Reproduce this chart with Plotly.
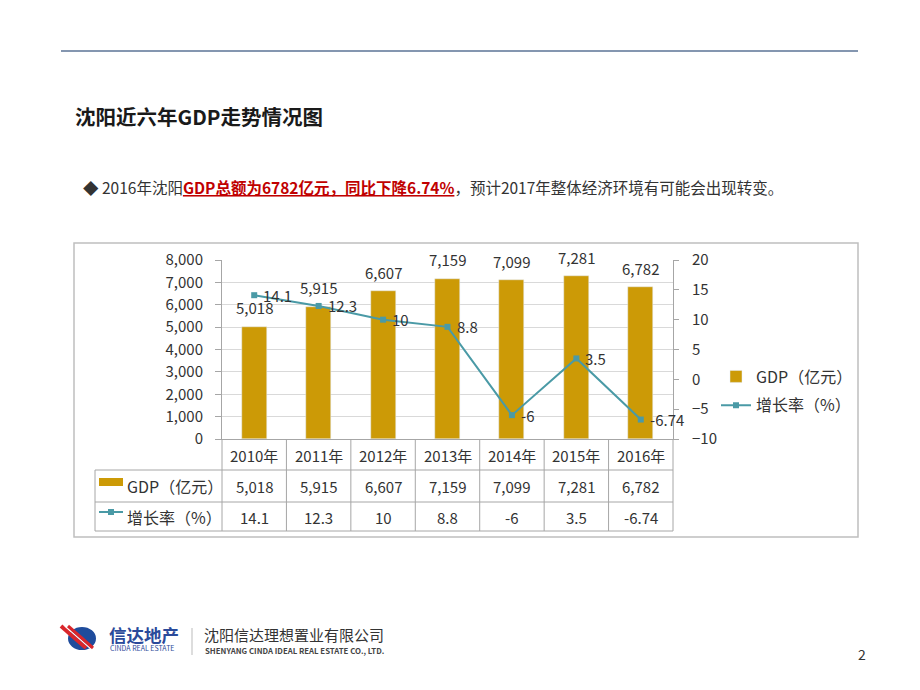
import plotly.graph_objects as go

# ---------------- data ----------------
years = ["2010年", "2011年", "2012年", "2013年", "2014年", "2015年", "2016年"]
gdp = [5018, 5915, 6607, 7159, 7099, 7281, 6782]
growth = [14.1, 12.3, 10, 8.8, -6, 3.5, -6.74]
gdp_name = "GDP（亿元）"
growth_name = "增长率（%）"
left_ticks = [0, 1000, 2000, 3000, 4000, 5000, 6000, 7000, 8000]
right_ticks = [-10, -5, 0, 5, 10, 15, 20]

title_text = "沈阳近六年GDP走势情况图"
bullet_pre = "◆ 2016年沈阳"
bullet_red = "GDP总额为6782亿元，同比下降6.74%"
bullet_post = "，预计2017年整体经济环境有可能会出现转变。"

# ---------------- style ----------------
W, H = 920, 690
OFF = 8  # page body margin offset
FONT = "Noto Sans CJK SC"
GOLD = "#CC9A06"
TEAL = "#4A9AA6"
GRID = "#D9D9D9"
AXIS = "#A6A6A6"
TXT = "#333333"


def px(x):
    return (x - OFF) / W


def py(y):
    return 1 - (y - OFF) / H


def label(x, y, text, size=15, color=TXT, xanchor="center", xref="paper", yref="paper", **kw):
    d = dict(x=x, y=y, xref=xref, yref=yref, text=text, showarrow=False,
             xanchor=xanchor, yanchor="middle",
             font=dict(size=size, color=color, family=FONT))
    d.update(kw)
    return d


x_dom = [px(222), px(673)]
y_dom = [py(439), py(260)]

fig = go.Figure()
fig.add_trace(go.Bar(
    x=years, y=gdp, name=gdp_name, marker_color=GOLD, width=0.39,
    yaxis="y", legendgroup="a", hoverinfo="skip"))
fig.add_trace(go.Scatter(
    x=years, y=growth, name=growth_name, mode="lines+markers",
    line=dict(color=TEAL, width=2),
    marker=dict(symbol="square", size=6, color=TEAL),
    yaxis="y2", legendgroup="b", hoverinfo="skip"))

annotations = []
shapes = []

# data labels
for yr, v in zip(years, gdp):
    annotations.append(label(yr, v, f"{v:,}", xref="x", yref="y", yshift=19))
for yr, g in zip(years, growth):
    annotations.append(label(yr, g, f"{g:g}", xref="x", yref="y2",
                             xanchor="left", xshift=7))

# ---------------- data table below the plot ----------------
row_lines = [470, 502, 531]
for yl in row_lines:
    shapes.append(dict(type="line", xref="paper", yref="paper",
                       x0=px(95), x1=px(673), y0=py(yl), y1=py(yl),
                       line=dict(color=AXIS, width=1)))
n = len(years)
for k in range(n + 1):
    shapes.append(dict(type="line", xref="x domain", yref="paper",
                       x0=k / n, x1=k / n, y0=py(439), y1=py(531),
                       line=dict(color=AXIS, width=1)))
shapes.append(dict(type="line", xref="paper", yref="paper",
                   x0=px(95), x1=px(95), y0=py(470), y1=py(531),
                   line=dict(color=AXIS, width=1)))

for yr, v, g in zip(years, gdp, growth):
    annotations.append(label(yr, py(455), yr, xref="x"))
    annotations.append(label(yr, py(486), f"{v:,}", xref="x"))
    annotations.append(label(yr, py(517), f"{g:g}", xref="x"))

# row headers
shapes.append(dict(type="rect", xref="paper", yref="paper",
                   x0=px(99), x1=px(123), y0=py(486), y1=py(478),
                   fillcolor=GOLD, line=dict(width=0)))
shapes.append(dict(type="line", xref="paper", yref="paper",
                   x0=px(99), x1=px(123), y0=py(512), y1=py(512),
                   line=dict(color=TEAL, width=2)))
shapes.append(dict(type="rect", xref="paper", yref="paper",
                   x0=px(108), x1=px(114), y0=py(515), y1=py(509),
                   fillcolor=TEAL, line=dict(width=0)))
annotations.append(label(px(125), py(486), gdp_name, size=16, xanchor="left"))
annotations.append(label(px(125), py(517), growth_name, size=16, xanchor="left"))

# chart frame
shapes.append(dict(type="rect", xref="paper", yref="paper",
                   x0=px(74), x1=px(858), y0=py(537), y1=py(243),
                   line=dict(color="#BFBFBF", width=1.5), layer="below"))

# ---------------- slide decorations ----------------
shapes.append(dict(type="line", xref="paper", yref="paper",
                   x0=px(61), x1=px(858), y0=py(51), y1=py(51),
                   line=dict(color="#8496B0", width=2)))
annotations.append(label(px(73), py(116), f"<b>{title_text}</b>", size=20.5,
                         color="#1A1A1A", xanchor="left"))
annotations.append(label(px(81), py(187),
                         bullet_pre + "<span style='color:#C00000'><b><u>" + bullet_red
                         + "</u></b></span>" + bullet_post, size=15.5, xanchor="left"))

# footer logo (approximation)
shapes.append(dict(type="circle", xref="paper", yref="paper",
                   x0=px(68), x1=px(96), y0=py(650), y1=py(627),
                   fillcolor="#1F4C9C", line=dict(width=0)))
for off, col, wd in [(0, "#D9262B", 4), (4, "#FFFFFF", 1.5), (7, "#D9262B", 3)]:
    shapes.append(dict(type="line", xref="paper", yref="paper",
                       x0=px(61 + off), x1=px(86 + off), y0=py(626), y1=py(648),
                       line=dict(color=col, width=wd)))
annotations.append(label(px(107), py(634), "<b>信达地产</b>", size=17.5,
                         color="#2A4A9A", xanchor="left"))
annotations.append(label(px(108), py(648), "CINDA REAL ESTATE", size=7,
                         color="#2A4A9A", xanchor="left"))
shapes.append(dict(type="line", xref="paper", yref="paper",
                   x0=px(192), x1=px(192), y0=py(628), y1=py(655),
                   line=dict(color="#BBBBBB", width=1)))
annotations.append(label(px(202), py(634), "沈阳信达理想置业有限公司", size=15,
                         color="#333333", xanchor="left"))
annotations.append(label(px(203), py(650), "<b>SHENYANG CINDA IDEAL REAL ESTATE CO., LTD.</b>",
                         size=7.8, color="#444444", xanchor="left"))
annotations.append(label(px(862), py(654), "2", size=14))

fig.update_layout(
    width=W, height=H, autosize=False,
    margin=dict(l=0, r=0, t=0, b=0, pad=0),
    paper_bgcolor="white", plot_bgcolor="white",
    font=dict(family=FONT, size=15, color=TXT),
    bargap=0,
    xaxis=dict(domain=x_dom, type="category", range=[-0.5, len(years) - 0.5],
               showticklabels=False, ticks="", showgrid=False, zeroline=False,
               showline=True, linecolor=AXIS, linewidth=1, fixedrange=True,
               automargin=False),
    yaxis=dict(domain=y_dom, range=[0, 8000], tickvals=left_ticks, tickformat=",",
               showgrid=True, gridcolor=GRID, gridwidth=1, zeroline=False,
               showline=True, linecolor=AXIS, linewidth=1,
               ticks="outside", ticklen=6, tickcolor=AXIS, ticklabelstandoff=9,
               tickfont=dict(size=15, color=TXT, family=FONT), automargin=False),
    yaxis2=dict(overlaying="y", side="right", anchor="x", range=[-10, 20],
                tickvals=right_ticks, showgrid=False, zeroline=False,
                showline=True, linecolor=AXIS, linewidth=1,
                ticks="outside", ticklen=5, tickcolor=AXIS, ticklabelstandoff=10,
                tickfont=dict(size=15, color=TXT, family=FONT), automargin=False),
    legend=dict(x=px(716), y=py(391), xanchor="left", yanchor="middle",
                font=dict(size=16, color=TXT, family=FONT),
                traceorder="grouped", tracegroupgap=5,
                bgcolor="rgba(0,0,0,0)"),
    annotations=annotations, shapes=shapes,
)

fig.write_html("out.html")
